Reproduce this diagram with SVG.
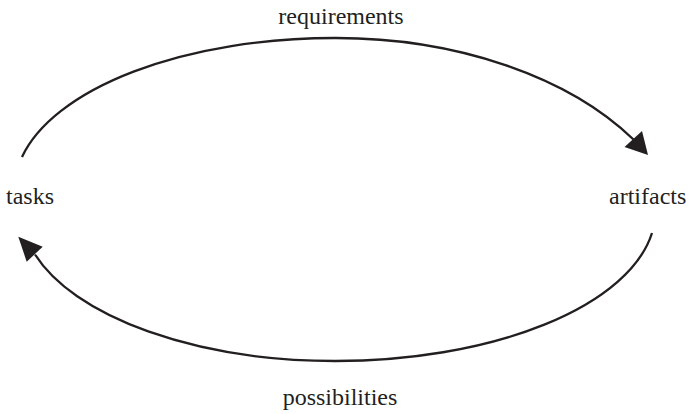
<svg xmlns="http://www.w3.org/2000/svg" width="689" height="414" viewBox="0 0 689 414">
<style>
.lbl{font-family:"Liberation Serif","Times New Roman",serif;font-size:24px;fill:#231f20}
.edge{fill:none;stroke:#231f20;stroke-width:2.3}
.head{fill:#231f20;stroke:none}
</style>
<rect width="689" height="414" fill="#ffffff"/>
<g id="connectors">
<g id="edge-requirements">
<path class="edge" d="M22,157 A320,152 0 0 1 334.5,38 A355,223 0 0 1 633.5,139.5"/>
<polygon class="head" points="648,155 624.5,147 642,131"/>
<text class="lbl" x="341" y="24" text-anchor="middle">requirements</text>
</g>
<g id="edge-possibilities">
<path class="edge" d="M652,233 A320,150 0 0 1 335,361 A313.6,150 0 0 1 35,254.5"/>
<polygon class="head" points="18.3,236.7 42.7,246.7 26.7,261.7"/>
<text class="lbl" x="340" y="405" text-anchor="middle">possibilities</text>
</g>
</g>
<g id="node-tasks">
<text class="lbl" x="6" y="204">tasks</text>
</g>
<g id="node-artifacts">
<text class="lbl" x="609" y="204">artifacts</text>
</g>
</svg>
